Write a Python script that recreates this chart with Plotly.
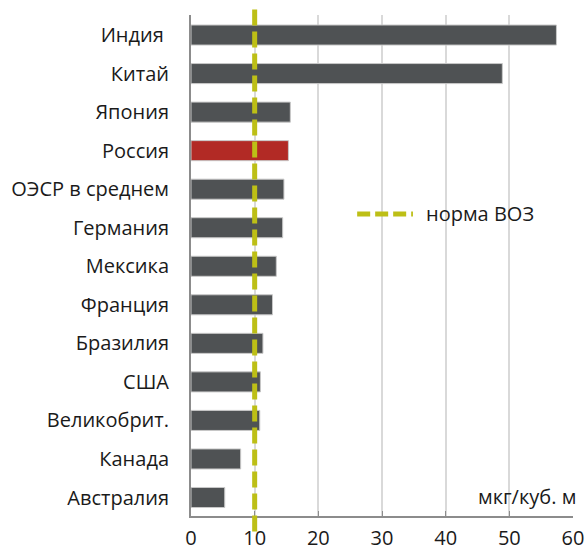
import plotly.graph_objects as go

countries = ["Индия", "Китай", "Япония", "Россия", "ОЭСР в среднем", "Германия",
             "Мексика", "Франция", "Бразилия", "США", "Великобрит.", "Канада", "Австралия"]
country_labels = ["Индия\u00a0"] + countries[1:]
values = [57.4, 48.9, 15.6, 15.3, 14.6, 14.4, 13.4, 12.8, 11.3, 10.9, 10.8, 7.8, 5.3]
who_norm = 10
x_ticks = [0, 10, 20, 30, 40, 50, 60]
unit_label = "мкг/куб. м"
legend_label = "норма ВОЗ"

colors = ["#b22a25" if c == "Россия" else "#4f5254" for c in countries]
FONT = "Open Sans"
FS = 20

fig = go.Figure()
fig.add_trace(go.Bar(
    x=values, y=countries, orientation="h",
    marker=dict(color=colors, line=dict(color="#c8c8c8", width=1)),
    width=0.52, showlegend=False, hoverinfo="x+y",
))

fig.add_shape(type="line", xref="x", yref="paper", x0=who_norm, x1=who_norm,
              y0=-0.031, y1=1.012,
              line=dict(color="#bdbf16", width=5, dash="16px,6px"), layer="above")
# legend
fig.add_shape(type="line", xref="paper", yref="paper", x0=0.435, x1=0.581, y0=0.603, y1=0.603,
              line=dict(color="#bdbf16", width=5, dash="13px,5px"))
fig.add_annotation(xref="paper", yref="paper", x=0.610, y=0.603, text=legend_label,
                   showarrow=False, xanchor="left", yanchor="middle",
                   font=dict(family=FONT, size=FS, color="#1a1a1a"))
fig.add_annotation(xref="paper", yref="paper", x=1.013, y=0.039, text=unit_label,
                   showarrow=False, xanchor="right", yanchor="middle",
                   font=dict(family=FONT, size=FS, color="#1a1a1a"))

fig.update_layout(
    width=588, height=552,
    margin=dict(l=191, r=15, t=15, b=36),
    plot_bgcolor="white", paper_bgcolor="white",
    font=dict(family=FONT, size=FS, color="#1a1a1a"),
    xaxis=dict(range=[0, 60], tickvals=x_ticks, showgrid=True, gridcolor="#d9d9d9",
               gridwidth=1.5, zeroline=False, showline=True, linecolor="#8c8c8c",
               linewidth=2, ticks="inside", ticklen=5, tickcolor="#8c8c8c",
               automargin=False, ticklabelstandoff=3,
               tickfont=dict(family=FONT, size=FS, color="#1a1a1a")),
    yaxis=dict(categoryorder="array", categoryarray=countries, range=[12.48, -0.52],
               tickmode="array", tickvals=countries, ticktext=country_labels,
               showline=True, linecolor="#8c8c8c", linewidth=2, showgrid=False,
               ticks="", ticklabelstandoff=16, automargin=False,
               tickfont=dict(family=FONT, size=FS, color="#1a1a1a")),
)

fig.write_html("out.html", config={"displayModeBar": False},
               post_script="document.body.style.margin='0';document.body.style.overflow='hidden';")
